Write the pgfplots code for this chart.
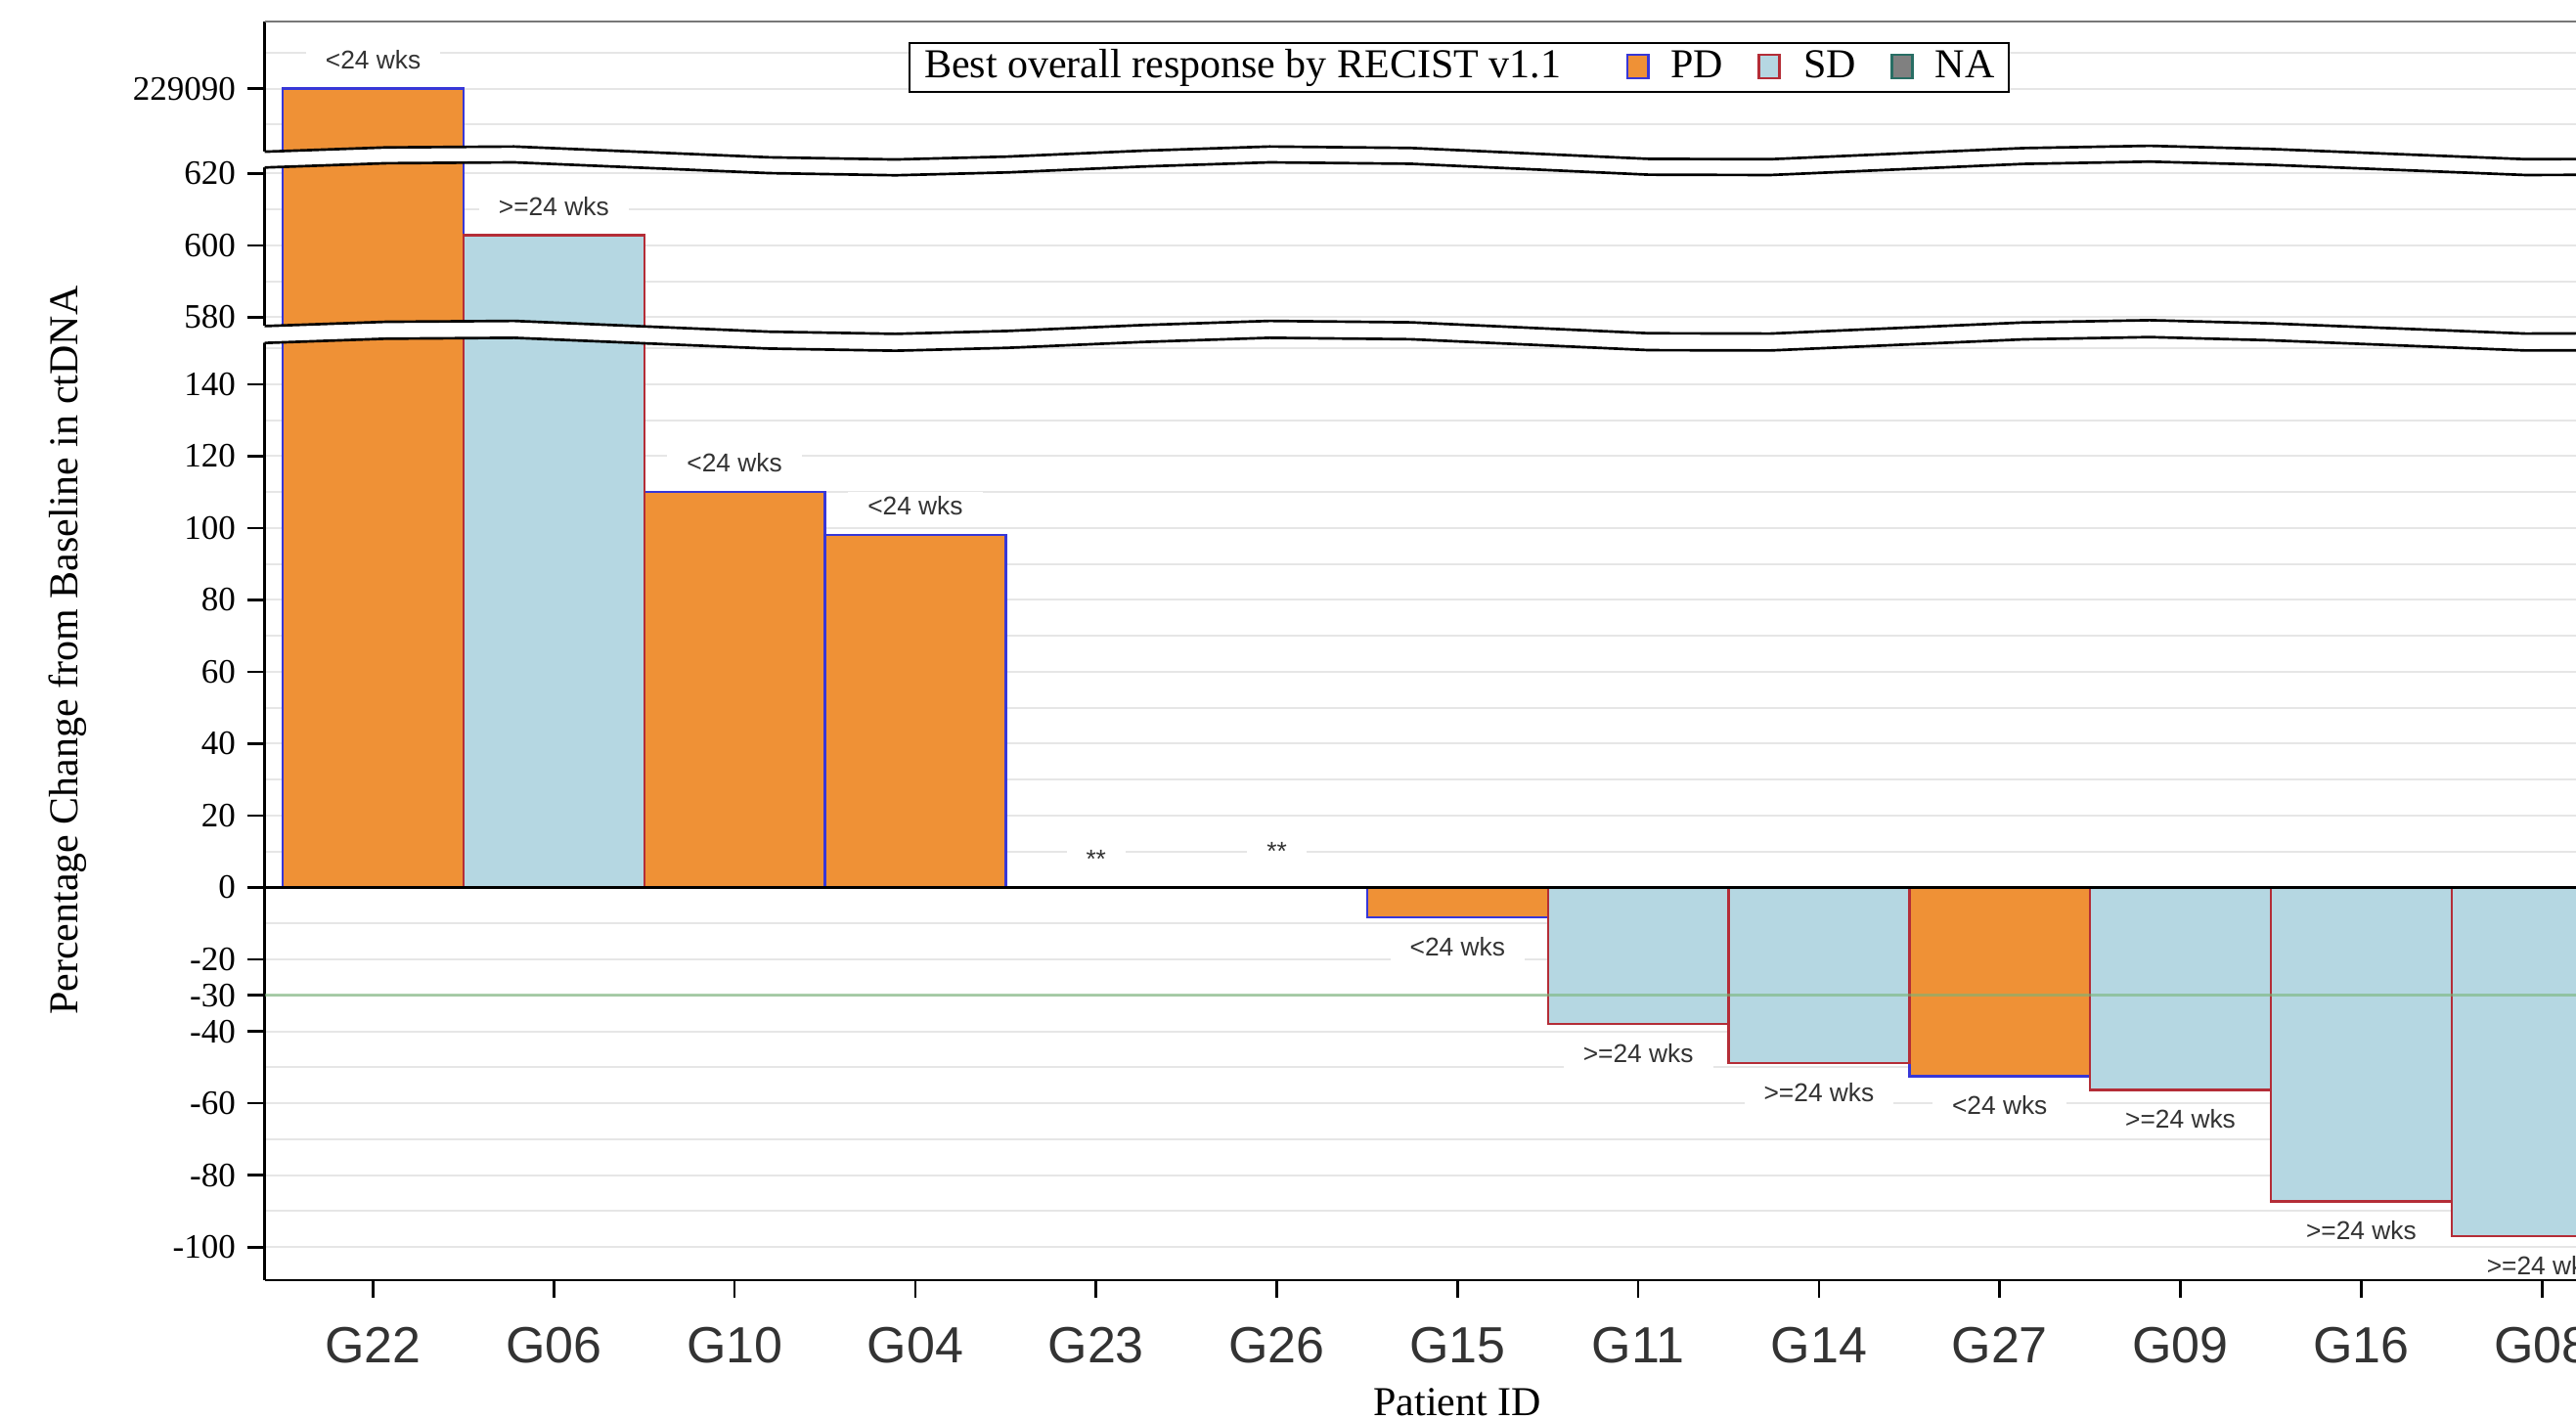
\documentclass[border=0pt]{standalone}
\usepackage{fontspec}
\setmainfont{Liberation Serif}
\newfontfamily\lsans{Liberation Sans}
\usepackage{pgfplots}
\pgfplotsset{compat=1.18}

\definecolor{pdfill}{RGB}{239,145,54}
\definecolor{pdedge}{RGB}{55,55,215}
\definecolor{sdfill}{RGB}{181,215,226}
\definecolor{sdedge}{RGB}{180,45,55}
\definecolor{nafill}{RGB}{128,128,128}
\definecolor{naedge}{RGB}{40,110,100}
\definecolor{gridc}{RGB}{230,230,230}
\definecolor{refc}{RGB}{120,180,120}
\definecolor{labc}{RGB}{51,51,51}
\definecolor{topc}{RGB}{120,120,120}

\newcommand{\labfont}{\lsans\fontsize{7.9}{9}\selectfont}
\newcommand{\sq}[2]{{\setlength{\fboxsep}{0pt}\setlength{\fboxrule}{0.8pt}\raisebox{0.2pt}{\fcolorbox{#2}{#1}{\rule{0pt}{6.4pt}\rule{5.6pt}{0pt}}}}}

% Broken y axis: plotted value = real value for -110..150,
% real - 421.4 for the 580..620 segment, real - 228867.8 for the top segment.
% Real values: G22 229090, G06 602.8, G10 110, G04 98, G15 -8.3, G11 -38,
% G14 -48.8, G27 -52.5, G09 -56.3, G16 -87.3, G08 -96.9

\begin{document}
\begin{tikzpicture}
\begin{axis}[
  at={(0,0)}, anchor=south west,
  x=55.44pt, y=1.1029pt,
  xmin=-0.6, xmax=12.6, ymin=-109.2, ymax=241.0,
  clip=false,
  separate axis lines,
  axis x line*=bottom, axis y line*=left,
  axis line style={-, black, line width=0.8pt},
  tick align=outside,
  major tick length=5.4pt,
  minor tick length=0pt,
  tick style={black, line width=0.8pt},
  xtick={0,...,12},
  xticklabels={G22,G06,G10,G04,G23,G26,G15,G11,G14,G27,G09,G16,G08},
  xticklabel style={font=\lsans\fontsize{15.6}{18}\selectfont, text=labc, yshift=-5.5pt},
  ytick={-100,-80,-60,-40,-30,-20,0,20,40,60,80,100,120,140,158.6,178.6,198.6,222.2},
  yticklabels={-100,-80,-60,-40,-30,-20,0,20,40,60,80,100,120,140,580,600,620,229090},
  yticklabel style={font=\fontsize{10.5}{12}\selectfont},
  minor ytick={-100,-90,...,150,158.6,168.6,178.6,188.6,198.6,212.2,222.2,232.2},
  yminorgrids=true, ymajorgrids=false,
  minor grid style={gridc, line width=0.6pt},
  xlabel={Patient ID},
  ylabel={Percentage Change from Baseline in ctDNA},
  every axis x label/.style={at={(rel axis cs:0.5,-0.0968)}, anchor=center, font=\fontsize{12.6}{15}\selectfont},
  every axis y label/.style={at={(rel axis cs:-0.0827,0.5)}, anchor=center, rotate=90, font=\fontsize{12.6}{15}\selectfont},
]
% PD bars
\addplot[ybar, bar width=1, bar shift=0pt, fill=pdfill, draw=pdedge, line width=0.7pt]
  coordinates {(0,222.2) (2,110) (3,98) (6,-8.3) (9,-52.5)};
% SD bars
\addplot[ybar, bar width=1, bar shift=0pt, fill=sdfill, draw=sdedge, line width=0.7pt]
  coordinates {(1,181.4) (7,-38) (8,-48.8) (10,-56.3) (11,-87.3) (12,-96.9)};
% reference line at -30 and zero line
\addplot[refc, opacity=0.6, line width=0.8pt] coordinates {(-0.6,-30) (12.6,-30)};
\addplot[black, line width=0.8pt] coordinates {(-0.6,0) (12.6,0)};
% duration labels
\addplot[draw=none, mark=none, nodes near coords, point meta=explicit symbolic,
  every node near coord/.append style={anchor=base, font=\labfont, text=labc, fill=white, inner xsep=6pt, inner ysep=1.5pt}]
  coordinates {(0,227.8) [<24 wks] (1,187.0) [>=24 wks] (2,115.6) [<24 wks] (3,103.6) [<24 wks]
               (4,5.5) [**] (5,7.5) [**]
               (6,-19.0) [<24 wks] (7,-48.7) [>=24 wks] (8,-59.5) [>=24 wks] (9,-63.2) [<24 wks]
               (10,-67.0) [>=24 wks] (11,-98.0) [>=24 wks] (12,-107.6) [>=24 wks]};
% axis break bands
\addplot[fill=white, draw=none] coordinates {
  (-0.64,204.66) (0.07,205.85) (0.78,206.10) (2.19,203.10) (2.89,202.50) (3.51,203.30) (4.26,204.94) (4.96,206.10)
  (5.74,205.70) (7.06,202.66) (7.73,202.57) (9.13,205.66) (9.83,206.30) (10.50,205.40) (11.91,202.57) (12.6,202.70)
  (12.6,198.30) (11.91,198.17) (10.50,201.00) (9.83,201.90) (9.13,201.26) (7.73,198.17) (7.06,198.26) (5.74,201.30)
  (4.96,201.70) (4.26,200.54) (3.51,198.90) (2.89,198.10) (2.19,198.70) (0.78,201.70) (0.07,201.45) (-0.64,200.26)} -- cycle;
\addplot[black, line width=0.8pt, line join=round] coordinates {
  (-0.6,204.66) (0.07,205.85) (0.78,206.10) (2.19,203.10) (2.89,202.50) (3.51,203.30) (4.26,204.94) (4.96,206.10)
  (5.74,205.70) (7.06,202.66) (7.73,202.57) (9.13,205.66) (9.83,206.30) (10.50,205.40) (11.91,202.57) (12.6,202.70)};
\addplot[black, line width=0.8pt, line join=round] coordinates {
  (-0.6,200.26) (0.07,201.45) (0.78,201.70) (2.19,198.70) (2.89,198.10) (3.51,198.90) (4.26,200.54) (4.96,201.70)
  (5.74,201.30) (7.06,198.26) (7.73,198.17) (9.13,201.26) (9.83,201.90) (10.50,201.00) (11.91,198.17) (12.6,198.30)};
\addplot[fill=white, draw=none] coordinates {
  (-0.64,156.16) (0.07,157.35) (0.78,157.60) (2.19,154.60) (2.89,154.00) (3.51,154.80) (4.26,156.44) (4.96,157.60)
  (5.74,157.20) (7.06,154.16) (7.73,154.07) (9.13,157.16) (9.83,157.80) (10.50,156.90) (11.91,154.07) (12.6,154.20)
  (12.6,149.50) (11.91,149.37) (10.50,152.20) (9.83,153.10) (9.13,152.46) (7.73,149.37) (7.06,149.46) (5.74,152.50)
  (4.96,152.90) (4.26,151.74) (3.51,150.10) (2.89,149.30) (2.19,149.90) (0.78,152.90) (0.07,152.65) (-0.64,151.46)} -- cycle;
\addplot[black, line width=0.8pt, line join=round] coordinates {
  (-0.6,156.16) (0.07,157.35) (0.78,157.60) (2.19,154.60) (2.89,154.00) (3.51,154.80) (4.26,156.44) (4.96,157.60)
  (5.74,157.20) (7.06,154.16) (7.73,154.07) (9.13,157.16) (9.83,157.80) (10.50,156.90) (11.91,154.07) (12.6,154.20)};
\addplot[black, line width=0.8pt, line join=round] coordinates {
  (-0.6,151.46) (0.07,152.65) (0.78,152.90) (2.19,149.90) (2.89,149.30) (3.51,150.10) (4.26,151.74) (4.96,152.90)
  (5.74,152.50) (7.06,149.46) (7.73,149.37) (9.13,152.46) (9.83,153.10) (10.50,152.20) (11.91,149.37) (12.6,149.50)};
% top frame line
\draw[topc, line width=0.6pt] (rel axis cs:0,1) -- (rel axis cs:1,1);
% legend
\node[draw=black, line width=0.6pt, fill=white, inner xsep=4.5pt, inner ysep=1.8pt,
      font=\fontsize{12.6}{14}\selectfont, yshift=-14.3pt] at (rel axis cs:0.5008,1)
  {Best overall response by RECIST v1.1\hspace{20pt}\sq{pdfill}{pdedge}\hspace{6.5pt}PD\hspace{10.5pt}\sq{sdfill}{sdedge}\hspace{7pt}SD\hspace{10.5pt}\sq{nafill}{naedge}\hspace{6.5pt}NA};
\end{axis}
\pgfresetboundingbox
\useasboundingbox (-81.2pt,-42.9pt) rectangle (709.0pt,392.7pt);
\end{tikzpicture}
\end{document}
